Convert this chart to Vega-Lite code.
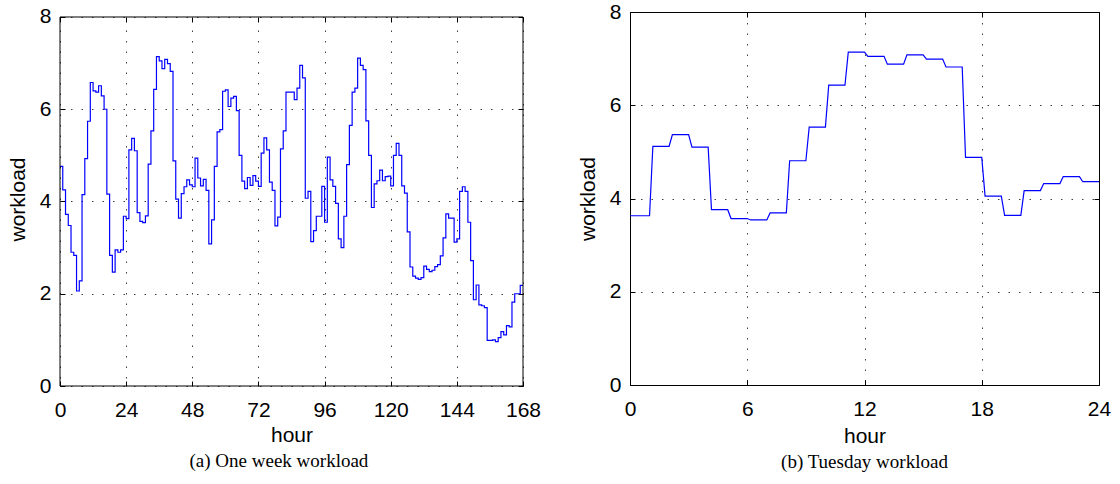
{
  "$schema": "https://vega.github.io/schema/vega-lite/v6.json",
  "background": "white",
  "padding": {"left": 7, "top": 0, "right": 0, "bottom": 0},
  "spacing": 35,
  "datasets": {
    "week": [
      {"hour": 0, "workload": 4.76}, {"hour": 1, "workload": 4.25}, {"hour": 2, "workload": 3.72}, {"hour": 3, "workload": 3.48},
      {"hour": 4, "workload": 2.90}, {"hour": 5, "workload": 2.83}, {"hour": 6, "workload": 2.06}, {"hour": 7, "workload": 2.28},
      {"hour": 8, "workload": 4.15}, {"hour": 9, "workload": 4.93}, {"hour": 10, "workload": 5.74}, {"hour": 11, "workload": 6.58},
      {"hour": 12, "workload": 6.40}, {"hour": 13, "workload": 6.37}, {"hour": 14, "workload": 6.51}, {"hour": 15, "workload": 6.29},
      {"hour": 16, "workload": 6.00}, {"hour": 17, "workload": 4.16}, {"hour": 18, "workload": 2.83}, {"hour": 19, "workload": 2.47},
      {"hour": 20, "workload": 2.95}, {"hour": 21, "workload": 2.90}, {"hour": 22, "workload": 2.95}, {"hour": 23, "workload": 3.68},
      {"hour": 24, "workload": 3.63}, {"hour": 25, "workload": 5.12}, {"hour": 26, "workload": 5.37}, {"hour": 27, "workload": 5.10},
      {"hour": 28, "workload": 3.76}, {"hour": 29, "workload": 3.57}, {"hour": 30, "workload": 3.54}, {"hour": 31, "workload": 3.69},
      {"hour": 32, "workload": 4.81}, {"hour": 33, "workload": 5.53}, {"hour": 34, "workload": 6.43}, {"hour": 35, "workload": 7.14},
      {"hour": 36, "workload": 7.05}, {"hour": 37, "workload": 6.88}, {"hour": 38, "workload": 7.08}, {"hour": 39, "workload": 6.99},
      {"hour": 40, "workload": 6.82}, {"hour": 41, "workload": 4.88}, {"hour": 42, "workload": 4.05}, {"hour": 43, "workload": 3.64},
      {"hour": 44, "workload": 4.17}, {"hour": 45, "workload": 4.32}, {"hour": 46, "workload": 4.47}, {"hour": 47, "workload": 4.36},
      {"hour": 48, "workload": 4.32}, {"hour": 49, "workload": 4.94}, {"hour": 50, "workload": 4.51}, {"hour": 51, "workload": 4.34},
      {"hour": 52, "workload": 4.48}, {"hour": 53, "workload": 4.24}, {"hour": 54, "workload": 3.08}, {"hour": 55, "workload": 3.60},
      {"hour": 56, "workload": 4.76}, {"hour": 57, "workload": 5.51}, {"hour": 58, "workload": 5.56}, {"hour": 59, "workload": 6.39},
      {"hour": 60, "workload": 6.42}, {"hour": 61, "workload": 6.06}, {"hour": 62, "workload": 6.24}, {"hour": 63, "workload": 6.28},
      {"hour": 64, "workload": 5.97}, {"hour": 65, "workload": 5.00}, {"hour": 66, "workload": 4.44}, {"hour": 67, "workload": 4.28},
      {"hour": 68, "workload": 4.52}, {"hour": 69, "workload": 4.35}, {"hour": 70, "workload": 4.56}, {"hour": 71, "workload": 4.44},
      {"hour": 72, "workload": 4.33}, {"hour": 73, "workload": 5.05}, {"hour": 74, "workload": 5.38}, {"hour": 75, "workload": 5.12},
      {"hour": 76, "workload": 4.42}, {"hour": 77, "workload": 4.24}, {"hour": 78, "workload": 3.47}, {"hour": 79, "workload": 3.66},
      {"hour": 80, "workload": 5.14}, {"hour": 81, "workload": 5.53}, {"hour": 82, "workload": 6.37}, {"hour": 83, "workload": 6.37},
      {"hour": 84, "workload": 6.37}, {"hour": 85, "workload": 6.21}, {"hour": 86, "workload": 6.46}, {"hour": 87, "workload": 6.95},
      {"hour": 88, "workload": 6.68}, {"hour": 89, "workload": 4.07}, {"hour": 90, "workload": 4.22}, {"hour": 91, "workload": 3.13},
      {"hour": 92, "workload": 3.37}, {"hour": 93, "workload": 3.68}, {"hour": 94, "workload": 3.68}, {"hour": 95, "workload": 4.33},
      {"hour": 96, "workload": 3.55}, {"hour": 97, "workload": 4.96}, {"hour": 98, "workload": 4.47}, {"hour": 99, "workload": 4.33},
      {"hour": 100, "workload": 3.96}, {"hour": 101, "workload": 3.19}, {"hour": 102, "workload": 3.00}, {"hour": 103, "workload": 3.68},
      {"hour": 104, "workload": 4.80}, {"hour": 105, "workload": 5.65}, {"hour": 106, "workload": 6.37}, {"hour": 107, "workload": 6.46},
      {"hour": 108, "workload": 7.11}, {"hour": 109, "workload": 6.95}, {"hour": 110, "workload": 6.86}, {"hour": 111, "workload": 5.75},
      {"hour": 112, "workload": 5.00}, {"hour": 113, "workload": 3.87}, {"hour": 114, "workload": 4.38}, {"hour": 115, "workload": 4.45},
      {"hour": 116, "workload": 4.68}, {"hour": 117, "workload": 4.45}, {"hour": 118, "workload": 4.54}, {"hour": 119, "workload": 4.55},
      {"hour": 120, "workload": 4.34}, {"hour": 121, "workload": 5.00}, {"hour": 122, "workload": 5.26}, {"hour": 123, "workload": 5.00},
      {"hour": 124, "workload": 4.34}, {"hour": 125, "workload": 4.18}, {"hour": 126, "workload": 3.34}, {"hour": 127, "workload": 2.58},
      {"hour": 128, "workload": 2.38}, {"hour": 129, "workload": 2.34}, {"hour": 130, "workload": 2.31}, {"hour": 131, "workload": 2.35},
      {"hour": 132, "workload": 2.60}, {"hour": 133, "workload": 2.53}, {"hour": 134, "workload": 2.48}, {"hour": 135, "workload": 2.51},
      {"hour": 136, "workload": 2.59}, {"hour": 137, "workload": 2.63}, {"hour": 138, "workload": 2.82}, {"hour": 139, "workload": 3.21},
      {"hour": 140, "workload": 3.73}, {"hour": 141, "workload": 3.64}, {"hour": 142, "workload": 3.64}, {"hour": 143, "workload": 3.12},
      {"hour": 144, "workload": 3.19}, {"hour": 145, "workload": 4.22}, {"hour": 146, "workload": 4.32}, {"hour": 147, "workload": 4.22},
      {"hour": 148, "workload": 3.55}, {"hour": 149, "workload": 2.72}, {"hour": 150, "workload": 1.87}, {"hour": 151, "workload": 2.19},
      {"hour": 152, "workload": 1.76}, {"hour": 153, "workload": 1.74}, {"hour": 154, "workload": 1.70}, {"hour": 155, "workload": 0.99},
      {"hour": 156, "workload": 0.99}, {"hour": 157, "workload": 1.00}, {"hour": 158, "workload": 0.96}, {"hour": 159, "workload": 1.05},
      {"hour": 160, "workload": 1.18}, {"hour": 161, "workload": 1.11}, {"hour": 162, "workload": 1.31}, {"hour": 163, "workload": 1.28},
      {"hour": 164, "workload": 1.82}, {"hour": 165, "workload": 2.00}, {"hour": 166, "workload": 2.00}, {"hour": 167, "workload": 2.18},
      {"hour": 168, "workload": 2.18}
    ],
    "tuesday": [
      {"hour": 0, "workload": 3.63}, {"hour": 1, "workload": 3.63},
      {"hour": 1.17, "workload": 5.12}, {"hour": 2, "workload": 5.12},
      {"hour": 2.17, "workload": 5.37}, {"hour": 3, "workload": 5.37},
      {"hour": 3.17, "workload": 5.10}, {"hour": 4, "workload": 5.10},
      {"hour": 4.17, "workload": 3.76}, {"hour": 5, "workload": 3.76},
      {"hour": 5.17, "workload": 3.57}, {"hour": 6, "workload": 3.57},
      {"hour": 6.17, "workload": 3.54}, {"hour": 7, "workload": 3.54},
      {"hour": 7.17, "workload": 3.69}, {"hour": 8, "workload": 3.69},
      {"hour": 8.17, "workload": 4.81}, {"hour": 9, "workload": 4.81},
      {"hour": 9.17, "workload": 5.53}, {"hour": 10, "workload": 5.53},
      {"hour": 10.17, "workload": 6.43}, {"hour": 11, "workload": 6.43},
      {"hour": 11.17, "workload": 7.14}, {"hour": 12, "workload": 7.14},
      {"hour": 12.17, "workload": 7.05}, {"hour": 13, "workload": 7.05},
      {"hour": 13.17, "workload": 6.88}, {"hour": 14, "workload": 6.88},
      {"hour": 14.17, "workload": 7.08}, {"hour": 15, "workload": 7.08},
      {"hour": 15.17, "workload": 6.99}, {"hour": 16, "workload": 6.99},
      {"hour": 16.17, "workload": 6.82}, {"hour": 17, "workload": 6.82},
      {"hour": 17.17, "workload": 4.88}, {"hour": 18, "workload": 4.88},
      {"hour": 18.17, "workload": 4.05}, {"hour": 19, "workload": 4.05},
      {"hour": 19.17, "workload": 3.64}, {"hour": 20, "workload": 3.64},
      {"hour": 20.17, "workload": 4.17}, {"hour": 21, "workload": 4.17},
      {"hour": 21.17, "workload": 4.32}, {"hour": 22, "workload": 4.32},
      {"hour": 22.17, "workload": 4.47}, {"hour": 23, "workload": 4.47},
      {"hour": 23.17, "workload": 4.36}, {"hour": 24, "workload": 4.36}
    ]
  },
  "config": {
    "view": {"stroke": "black", "strokeWidth": 1},
    "font": "Liberation Sans",
    "axis": {
      "domain": false,
      "labelFont": "Liberation Sans",
      "labelFontSize": 21,
      "labelColor": "black",
      "labelFlush": false,
      "labelOverlap": false,
      "titleFont": "Liberation Sans",
      "titleFontSize": 21,
      "titleFontWeight": "normal",
      "titleColor": "black",
      "tickColor": "black",
      "tickSize": -5,
      "tickWidth": 1,
      "grid": false,
      "gridColor": "black",
      "gridOpacity": 0.75,
      "gridDash": [1.5, 9],
      "gridWidth": 1
    },
    "title": {"font": "Liberation Serif", "fontSize": 19, "fontWeight": "normal", "color": "black"}
  },
  "hconcat": [
    {
      "width": 463,
      "height": 374,
      "view": {"stroke": null},
      "title": {"text": "(a) One week workload", "orient": "bottom", "anchor": "middle", "frame": "bounds", "offset": 6, "dx": 5},
      "data": {"name": "week"},
      "layer": [
        {
          "mark": {"type": "line", "interpolate": "step-after", "stroke": "#0000ff", "strokeWidth": 1.2},
          "encoding": {
            "x": {"field": "hour", "type": "quantitative", "scale": {"domain": [0, 168], "nice": false, "zero": false},
                  "axis": {"orient": "bottom", "values": [0, 24, 48, 72, 96, 120, 144, 168], "title": "hour", "grid": true, "gridDashOffset": 3, "labelPadding": 18.5, "titlePadding": 4}},
            "y": {"field": "workload", "type": "quantitative", "scale": {"domain": [0, 8.1084], "nice": false, "zero": false},
                  "axis": {"orient": "left", "values": [0, 2, 4, 6, 8], "title": "workload", "grid": true, "labelPadding": 14, "titlePadding": 11}}
          }
        },
        {
          "mark": {"type": "line", "interpolate": "step-after", "strokeOpacity": 0},
          "encoding": {
            "x": {"field": "hour", "type": "quantitative", "scale": {"domain": [0, 168], "nice": false, "zero": false},
                  "axis": {"orient": "top", "values": [0, 24, 48, 72, 96, 120, 144, 168], "labels": false, "grid": false, "title": null, "offset": -5}},
            "y": {"field": "workload", "type": "quantitative", "scale": {"domain": [0, 8.1084], "nice": false, "zero": false},
                  "axis": {"orient": "right", "values": [0, 2, 4, 6, 8], "labels": false, "grid": false, "title": null}}
          }
        },
        {
          "data": {"values": [{}]},
          "mark": {"type": "rect", "filled": false, "stroke": "black", "strokeWidth": 1},
          "encoding": {
            "x": {"datum": 0, "type": "quantitative", "scale": {"domain": [0, 168], "nice": false, "zero": false}, "axis": null},
            "x2": {"datum": 168},
            "y": {"datum": 0, "type": "quantitative", "scale": {"domain": [0, 8.1084], "nice": false, "zero": false}, "axis": null},
            "y2": {"datum": 8}
          }
        }
      ]
    },
    {
      "width": 469,
      "height": 373,
      "title": {"text": "(b) Tuesday workload", "orient": "bottom", "anchor": "middle", "frame": "group", "offset": 6},
      "data": {"name": "tuesday"},
      "layer": [
        {
          "mark": {"type": "line", "stroke": "#0000ff", "strokeWidth": 1.2},
          "encoding": {
            "x": {"field": "hour", "type": "quantitative", "scale": {"domain": [0, 24], "nice": false, "zero": false},
                  "axis": {"orient": "bottom", "values": [0, 6, 12, 18, 24], "title": "hour", "grid": true, "labelPadding": 18.5, "titlePadding": 6}},
            "y": {"field": "workload", "type": "quantitative", "scale": {"domain": [0, 8], "nice": false},
                  "axis": {"orient": "left", "values": [0, 2, 4, 6, 8], "title": "workload", "grid": true, "labelPadding": 14, "titlePadding": 11}}
          }
        },
        {
          "mark": {"type": "line", "strokeOpacity": 0},
          "encoding": {
            "x": {"field": "hour", "type": "quantitative", "scale": {"domain": [0, 24], "nice": false, "zero": false},
                  "axis": {"orient": "top", "values": [0, 6, 12, 18, 24], "labels": false, "grid": false, "title": null}},
            "y": {"field": "workload", "type": "quantitative", "scale": {"domain": [0, 8], "nice": false},
                  "axis": {"orient": "right", "values": [0, 2, 4, 6, 8], "labels": false, "grid": false, "title": null}}
          }
        }
      ]
    }
  ]
}
